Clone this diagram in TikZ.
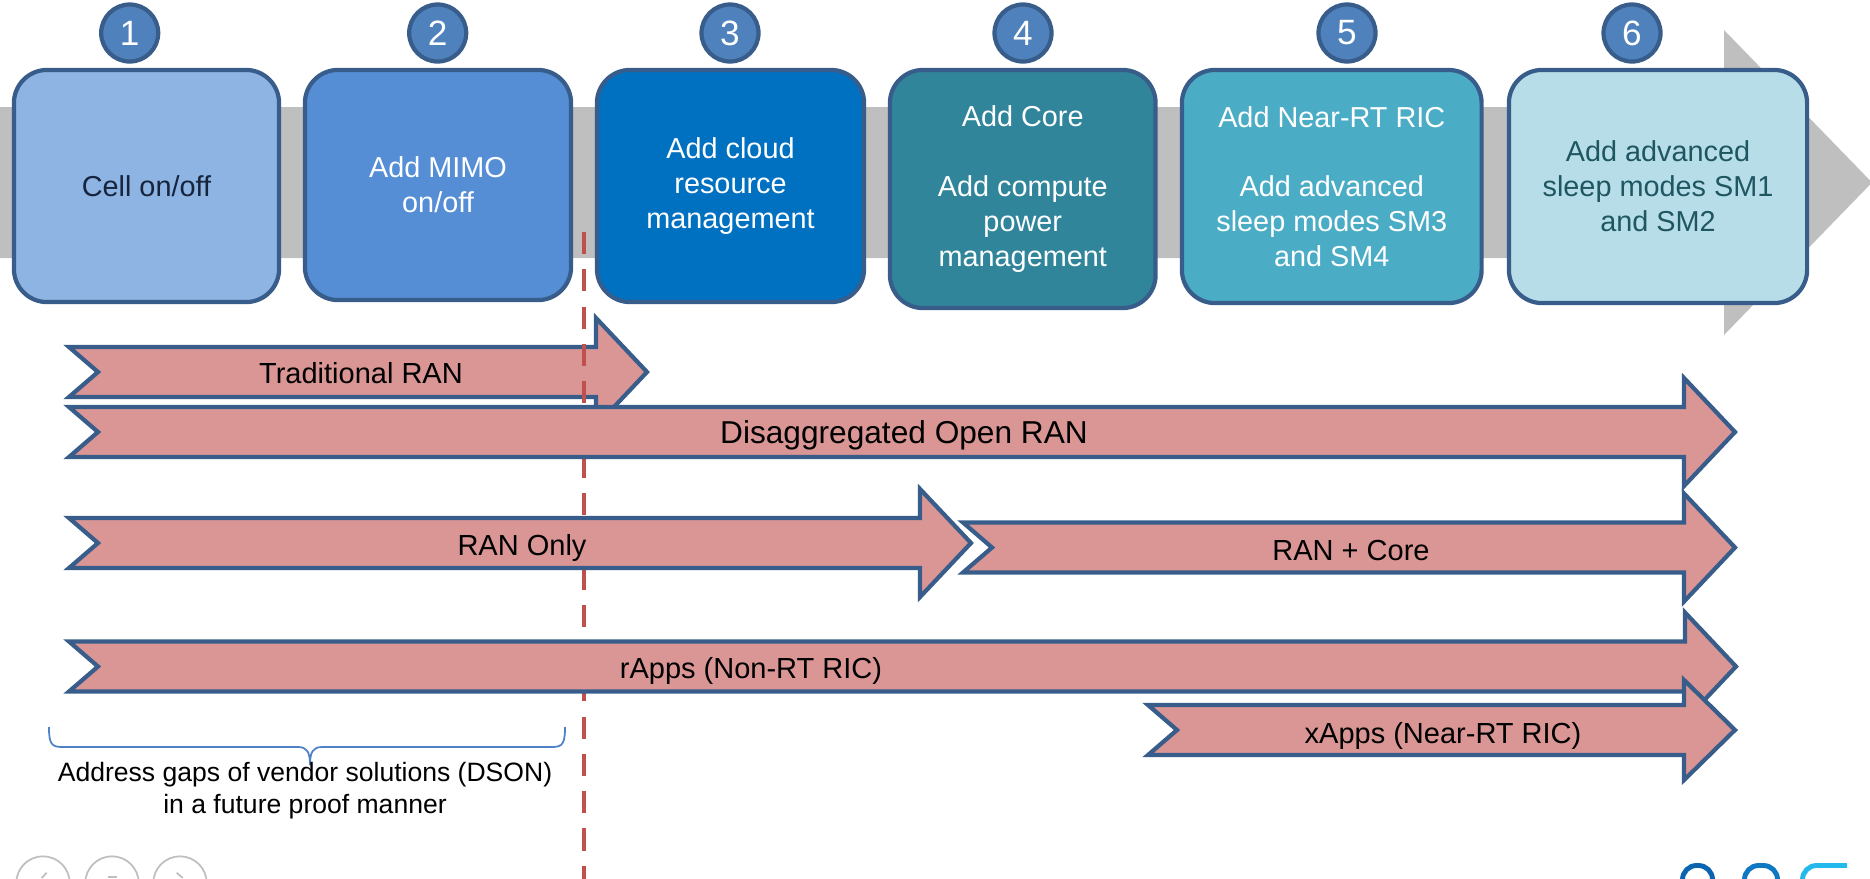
\documentclass[tikz,border=0pt]{standalone}
\usepackage{fontspec}
\setmainfont{Liberation Sans}
\definecolor{grayband}{RGB}{191,191,191}
\definecolor{edge}{RGB}{56,93,138}
\definecolor{boxA}{RGB}{141,180,226}
\definecolor{boxB}{RGB}{85,142,213}
\definecolor{boxC}{RGB}{0,112,192}
\definecolor{boxD}{RGB}{49,133,155}
\definecolor{boxE}{RGB}{75,172,198}
\definecolor{boxF}{RGB}{183,222,232}
\definecolor{badge}{RGB}{79,129,189}
\definecolor{pinkfill}{RGB}{217,150,148}
\definecolor{dashred}{RGB}{192,80,77}
\definecolor{navytext}{RGB}{22,36,62}
\definecolor{tealtext}{RGB}{30,86,98}
\definecolor{navgray}{RGB}{191,191,191}
\definecolor{bracecol}{RGB}{79,129,199}
\definecolor{logoA}{RGB}{10,100,175}
\definecolor{logoB}{RGB}{14,120,195}
\definecolor{logoC}{RGB}{35,185,236}
\newcommand{\pinkband}[4]{\filldraw[band] (#1,#3-25) -- (#2,#3-25) -- (#2,#3-#4) -- (#2+51,#3) -- (#2,#3+#4) -- (#2,#3+25) -- (#1,#3+25) -- (#1+29,#3) -- cycle;}
\tikzset{
  stagebox/.style={draw=edge, line width=1.2pt, rounded corners=9.4pt, align=center,
    font=\fontsize{8.2}{9.96}\selectfont, inner sep=0pt, text=white},
  badgenode/.style={circle, draw=edge, fill=badge, line width=1.2pt, minimum size=0.57cm,
    inner sep=0pt, text=white, font=\fontsize{10}{12}\selectfont},
  band/.style={fill=pinkfill, draw=edge, line width=1.2pt, miter limit=10},
  bandlabel/.style={font=\fontsize{8.25}{10}\selectfont, text height=5.9pt, text depth=0pt, inner sep=0pt},
  dashline/.style={draw=dashred, line width=1.3pt, dash pattern=on 6.3pt off 4.3pt},
  navring/.style={draw=navgray, line width=0.5pt},
}
\begin{document}
\begin{tikzpicture}[x=0.01cm, y=-0.01cm]
\useasboundingbox (0,0) rectangle (1870,878);
\clip (0,0) rectangle (1870,878);
% big grey timeline arrow
\fill[grayband] (0,107) -- (1724,107) -- (1724,30) -- (1872,182.5) -- (1724,335) -- (1724,258) -- (0,258) -- cycle;
% stage boxes
\node[stagebox, fill=boxA, text=navytext, minimum width=2.65cm, minimum height=2.32cm] (s1) at (146.5,186) {Cell on/off};
\node[stagebox, fill=boxB, minimum width=2.66cm, minimum height=2.30cm] (s2) at (438,185) {Add MIMO\\on/off};
\node[stagebox, fill=boxC, minimum width=2.67cm, minimum height=2.32cm] (s3) at (730.5,186) {Add cloud\\resource\\management};
\node[stagebox, fill=boxD, minimum width=2.655cm, minimum height=2.38cm] (s4) at (1022.75,189) {Add Core\\[9.8pt]Add compute\\power\\management};
\node[stagebox, fill=boxE, minimum width=2.995cm, minimum height=2.33cm] (s5) at (1331.75,186.5) {Add Near-RT RIC\\[9.8pt]Add advanced\\sleep modes SM3\\and SM4};
\node[stagebox, fill=boxF, text=tealtext, minimum width=2.98cm, minimum height=2.33cm] (s6) at (1658,186.5) {Add advanced\\sleep modes SM1\\and SM2};
% number badges
\node[badgenode] (n1) at (129.7,33) {1};
\node[badgenode] (n2) at (437.7,33) {2};
\node[badgenode] (n3) at (730,33) {3};
\node[badgenode] (n4) at (1023,33) {4};
\node[badgenode] (n5) at (1347,33) {5};
\node[badgenode] (n6) at (1632,33) {6};
% traditional RAN arrow (below the dashed line)
\pinkband{69}{596}{372}{54}
\node[bandlabel] (trad) at (361,373) {Traditional RAN};
% dashed divider
\coordinate (dtop) at (584,232);
\coordinate (dbot) at (584,882);
\draw[dashline] (dtop) -- (dbot);
% other arrows
\pinkband{69}{1684}{432}{54}
\node[bandlabel, font=\fontsize{9}{11}\selectfont, text height=6.45pt] (disagg) at (904,432) {Disaggregated Open RAN};
\pinkband{69}{920}{543}{54}
\node[bandlabel] (ranonly) at (522,545) {RAN Only};
\pinkband{963}{1684}{547.5}{54}
\node[bandlabel] (rancore) at (1351,550) {RAN + Core};
\pinkband{69}{1685}{666.5}{54}
\node[bandlabel] (rapps) at (751,668) {rApps (Non-RT RIC)};
\pinkband{1148}{1684}{730}{50}
\node[bandlabel] (xapps) at (1443,733) {xApps (Near-RT RIC)};
% brace and note
\draw[bracecol, line width=0.5pt] (49,727) .. controls (49,743) and (51,747) .. (62,747) -- (298,747) .. controls (307,747) and (310,752) .. (310,765) .. controls (310,752) and (313,747) .. (322,747) -- (552,747) .. controls (563,747) and (565,743) .. (565,727);
\node[font=\fontsize{7.55}{9.1}\selectfont, align=center, inner sep=0pt] (gaps) at (305,791) {Address gaps of vendor solutions (DSON)\\in a future proof manner};
% navigation rings (cut by the bottom edge)
\draw[navring] (43,883) circle (26.7);
\draw[navring] (112,883) circle (26.7);
\draw[navring] (180,883) circle (26.7);
\draw[navring] (46.7,872.7) -- (41.7,878);
\draw[navring] (108,876.7) -- (116.7,876.7);
\draw[navring] (176.7,872.7) -- (182.7,878);
% logo fragment
\draw[logoA, line width=1.4pt, rounded corners=4pt] (1682.5,885) -- (1682.5,865.5) -- (1712.5,865.5) -- (1712.5,885);
\draw[logoB, line width=1.4pt, rounded corners=4pt] (1744.5,885) -- (1744.5,865.5) -- (1777.5,865.5) -- (1777.5,885);
\draw[logoC, line width=1.4pt, rounded corners=4pt] (1802.5,885) -- (1802.5,865.5) -- (1847,865.5);
\end{tikzpicture}
\end{document}
